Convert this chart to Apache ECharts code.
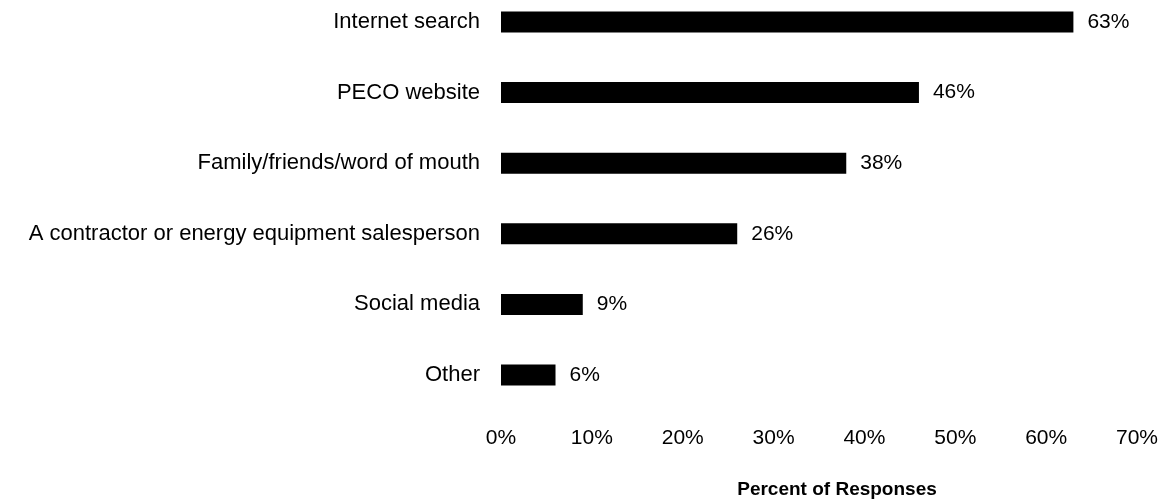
<!DOCTYPE html>
<html>
<head>
<meta charset="utf-8">
<script src="https://cdn.jsdelivr.net/npm/echarts@6/dist/echarts.min.js"></script>
<style>
  html, body { margin: 0; padding: 0; background: #fff; }
  #chart { width: 1165px; height: 499px; }
</style>
</head>
<body>
<div id="chart"></div>
<script>
// Information sources, listed top to bottom
const categories = [
  'Internet search',
  'PECO website',
  'Family/friends/word of mouth',
  'A contractor or energy equipment salesperson',
  'Social media',
  'Other'
];
// Share of responses (%) for each source
const percents = [63, 46, 38, 26, 9, 6];
// Horizontal axis range and step (%)
const axisMin = 0;
const axisMax = 70;
const axisStep = 10;
const axisTitle = 'Percent of Responses';

const font = 'Liberation Sans, Arial, sans-serif';
const chart = echarts.init(document.getElementById('chart'), null, { renderer: 'canvas' });

chart.setOption({
  backgroundColor: '#ffffff',
  animation: false,
  title: {
    text: axisTitle,
    left: 832,
    top: 475,
    textAlign: 'center',
    textStyle: { fontFamily: font, fontSize: 19, fontWeight: 'bold', color: '#000' }
  },
  // category centres sit on the grid edges (boundaryGap off)
  grid: { left: 501, right: 28, top: 22, bottom: 124, containLabel: false },
  xAxis: {
    type: 'value',
    min: axisMin,
    max: axisMax,
    interval: axisStep,
    axisLine: { show: false },
    axisTick: { show: false },
    splitLine: { show: false },
    axisLabel: {
      formatter: '{value}%',
      margin: 53,
      fontFamily: font,
      fontSize: 21,
      color: '#000'
    }
  },
  yAxis: {
    type: 'category',
    data: categories,
    inverse: true,
    boundaryGap: false,
    axisLine: { show: false },
    axisTick: { show: false },
    splitLine: { show: false },
    axisLabel: {
      margin: 21,
      fontFamily: font,
      fontSize: 22,
      color: '#000'
    }
  },
  series: [{
    type: 'bar',
    data: percents,
    barWidth: 21,
    itemStyle: { color: '#000' },
    label: {
      show: true,
      position: 'right',
      distance: 14,
      formatter: '{c}%',
      fontFamily: font,
      fontSize: 21,
      color: '#000'
    }
  }]
});
</script>
</body>
</html>
